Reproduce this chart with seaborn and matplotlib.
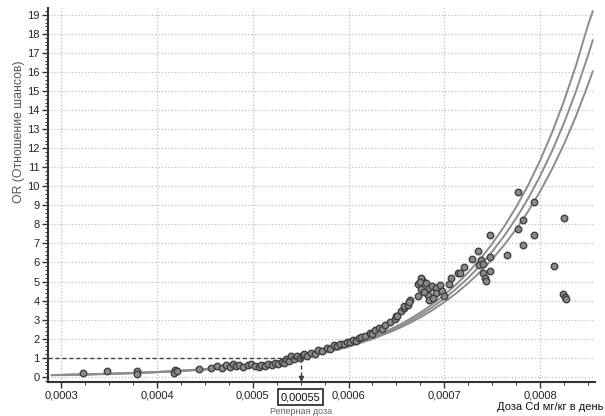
import numpy as np
import pandas as pd
import matplotlib
matplotlib.use("Agg")
import matplotlib.pyplot as plt
import matplotlib.transforms as mtransforms
from matplotlib.ticker import FuncFormatter, MultipleLocator
import seaborn as sns

# ---- data ----
scatter_x = [0.000323, 0.000348, 0.000379, 0.000379, 0.000419, 0.000418, 0.000421,
             0.000444, 0.000456, 0.000463, 0.000468, 0.000472, 0.000476, 0.000479,
             0.000482, 0.000486, 0.000490, 0.000495, 0.000498, 0.000502, 0.000506,
             0.000509, 0.000513, 0.000516, 0.000520, 0.000523, 0.000526, 0.000530,
             0.000533, 0.000535, 0.000538, 0.000540, 0.000543, 0.000546, 0.000549,
             0.000552, 0.000554, 0.000557, 0.000561, 0.000565, 0.000568, 0.000572,
             0.000577, 0.000581, 0.000585, 0.000588, 0.000591, 0.000595, 0.000598,
             0.000602, 0.000605, 0.000608, 0.000611, 0.000613, 0.000617, 0.000622,
             0.000625, 0.000628, 0.000632, 0.000635, 0.000638, 0.000643, 0.000648,
             0.000650, 0.000651, 0.000655, 0.000658, 0.000658, 0.000662, 0.000664,
             0.000663,
             0.000672, 0.000673, 0.000676, 0.000677, 0.000676, 0.000675, 0.000681,
             0.000683, 0.000684, 0.000684, 0.000687, 0.000691, 0.000691, 0.000695,
             0.000698, 0.000700, 0.000679, 0.000688,
             0.000705, 0.000707, 0.000714, 0.000716, 0.000721, 0.000729, 0.000735,
             0.000738, 0.000736, 0.000740, 0.000740, 0.000742, 0.000743, 0.000748,
             0.000748, 0.000748, 0.000765, 0.000777, 0.000777, 0.000782, 0.000782,
             0.000794, 0.000794, 0.000814, 0.000825, 0.000824, 0.000826, 0.000827]
scatter_y = [0.20, 0.30, 0.30, 0.12, 0.37, 0.20, 0.28,
             0.40, 0.47, 0.55, 0.45, 0.60, 0.50, 0.65,
             0.55, 0.62, 0.50, 0.60, 0.68, 0.58, 0.52,
             0.63, 0.55, 0.68, 0.62, 0.72, 0.65, 0.80,
             0.72, 0.92, 0.85, 1.07, 0.95, 1.10, 0.98,
             1.15, 1.19, 1.10, 1.27, 1.22, 1.38, 1.35,
             1.50, 1.45, 1.68, 1.60, 1.73, 1.70, 1.85,
             1.80, 1.94, 1.90, 2.06, 2.10, 2.15, 2.30,
             2.25, 2.47, 2.55, 2.50, 2.73, 2.90, 3.03,
             3.17, 3.20, 3.43, 3.60, 3.70, 3.78, 4.04,
             3.95,
             4.22, 4.86, 4.60, 5.09, 5.17, 4.95, 4.91,
             4.30, 4.65, 4.04, 4.75, 4.65, 4.39, 4.83,
             4.48, 4.22, 4.45, 4.15,
             4.86, 5.17, 5.44, 5.45, 5.75, 6.17, 6.60,
             6.14, 5.85, 5.90, 5.44, 5.17, 5.04, 5.54,
             6.28, 7.45, 6.40, 9.70, 7.75, 8.24, 6.90,
             9.20, 7.43, 5.83, 8.36, 4.36, 4.20, 4.10]

curve_x = [0.00029, 0.000300, 0.000325, 0.000350, 0.000375, 0.000400, 0.000425,
           0.000450, 0.000475, 0.000500, 0.000525, 0.000550, 0.000575, 0.000600,
           0.000625, 0.000650, 0.0006625, 0.000675, 0.0006875, 0.000700, 0.0007125,
           0.000725, 0.0007375, 0.000750, 0.0007625, 0.000775, 0.0007875,
           0.000800, 0.0008125, 0.000825, 0.0008375, 0.000850, 0.000855]
curve_low = [0.094, 0.103, 0.129, 0.162, 0.203, 0.255, 0.321, 0.403, 0.505, 0.634,
             0.797, 1.0, 1.256, 1.576, 1.979, 2.485, 2.784, 3.120, 3.496, 3.917,
             4.389, 4.918, 5.511, 6.174, 6.918, 7.752, 8.686, 9.733, 10.91,
             12.22, 13.69, 15.34, 16.05]
curve_mid = [0.086, 0.095, 0.120, 0.152, 0.192, 0.244, 0.308, 0.390, 0.493, 0.624,
             0.790, 1.0, 1.266, 1.602, 2.027, 2.565, 2.886, 3.246, 3.652, 4.108,
             4.621, 5.198, 5.848, 6.578, 7.400, 8.325, 9.365, 10.54, 11.86,
             13.33, 15.00, 16.87, 17.68]
curve_high = [0.080, 0.088, 0.112, 0.143, 0.183, 0.233, 0.297, 0.378, 0.482, 0.615,
              0.784, 1.0, 1.275, 1.626, 2.073, 2.644, 2.986, 3.371, 3.806, 4.298,
              4.853, 5.481, 6.189, 6.988, 7.891, 8.911, 10.06, 11.36, 12.83,
              14.49, 16.36, 18.47, 19.20]

ref_dose = 0.00055
ref_or = 1.0
x_ticks = [0.0003, 0.0004, 0.0005, 0.0006, 0.0007, 0.0008]
y_ticks = list(range(0, 20))

# ---- plotting ----
sns.set_style("white")
plt.rcParams['font.family'] = ['Liberation Sans', 'DejaVu Sans']

fig = plt.figure(figsize=(6.05, 4.16), dpi=100)
ax = fig.add_axes([0.079, 0.082, 0.904, 0.899])

xmin, xmax = 0.000286, 0.000857
ymin, ymax = -0.27, 19.37

curves = pd.DataFrame({
    "x": curve_x * 3,
    "y": curve_low + curve_mid + curve_high,
    "c": ["low"] * len(curve_x) + ["mid"] * len(curve_x) + ["high"] * len(curve_x),
})
sns.lineplot(data=curves, x="x", y="y", hue="c", estimator=None, sort=False,
             palette={"low": "#8c8c8c", "mid": "#8c8c8c", "high": "#8c8c8c"},
             linewidth=1.4, legend=False, ax=ax, zorder=3)

pts = pd.DataFrame({"x": scatter_x, "y": scatter_y})
sns.scatterplot(data=pts, x="x", y="y", marker="8", s=24, color="#8a8a8a",
                edgecolor="#3f3f3f", linewidth=1.0, ax=ax, zorder=4)

# reference dose lines
ax.plot([xmin, ref_dose], [ref_or, ref_or], ls=(0, (3, 2)), color="#404040", lw=1.0, zorder=5)
ax.plot([ref_dose, ref_dose], [ref_or, ymin], ls=(0, (3, 2)), color="#404040", lw=1.0, zorder=5)
ax.plot([ref_dose], [ymin + 0.2], marker="v", color="#404040", markersize=3, zorder=5)

ax.set_xlim(xmin, xmax)
ax.set_ylim(ymin, ymax)
ax.set_xticks(x_ticks)
ax.set_yticks(y_ticks)
ax.xaxis.set_minor_locator(MultipleLocator(0.000025))
ax.yaxis.set_minor_locator(MultipleLocator(0.2))
ax.xaxis.set_major_formatter(FuncFormatter(lambda v, p: f"{v:.4f}".replace(".", ",")))
ax.yaxis.set_major_formatter(FuncFormatter(lambda v, p: f"{int(round(v))}"))

ax.grid(True, which="major", linestyle=(0, (1, 2)), color="#b5b5b5", lw=0.8)
ax.set_axisbelow(True)
for s in ["top", "right"]:
    ax.spines[s].set_visible(False)
for s in ["left", "bottom"]:
    ax.spines[s].set_color("#333333")
    ax.spines[s].set_linewidth(1.5)
ax.tick_params(axis="both", which="major", direction="out", length=4, width=1,
               color="#333333", labelsize=8, labelcolor="#222222", pad=2)
ax.tick_params(axis="both", which="minor", direction="out", length=2, width=0.7,
               color="#333333")
ax.tick_params(axis="both", left=True, bottom=True)
ax.tick_params(axis="both", which="minor", left=True, bottom=True)
ax.set_xlabel("")
ax.set_ylabel("")

trans = mtransforms.blended_transform_factory(ax.transData, fig.transFigure)
ax.text(ref_dose, 1 - 397 / 416, "0,00055", transform=trans, ha="center", va="center",
        fontsize=8, color="#111111", zorder=10, clip_on=False,
        bbox=dict(boxstyle="square,pad=0.25", facecolor="white", edgecolor="#222222", lw=1.2))
ax.text(ref_dose, 1 - 411 / 416, "Реперная доза", transform=trans, ha="center", va="center",
        fontsize=6.5, color="#666666", clip_on=False)

fig.text(497 / 605, 1 - 407 / 416, "Доза Cd мг/кг в день", ha="left", va="center",
         fontsize=8, color="#111111")
fig.text(19 / 605, 1 - 132 / 416, "OR (Отношение шансов)", ha="center", va="center",
         rotation=90, fontsize=8.8, color="#555555")

fig.savefig("out.png", dpi=100, facecolor="white")
